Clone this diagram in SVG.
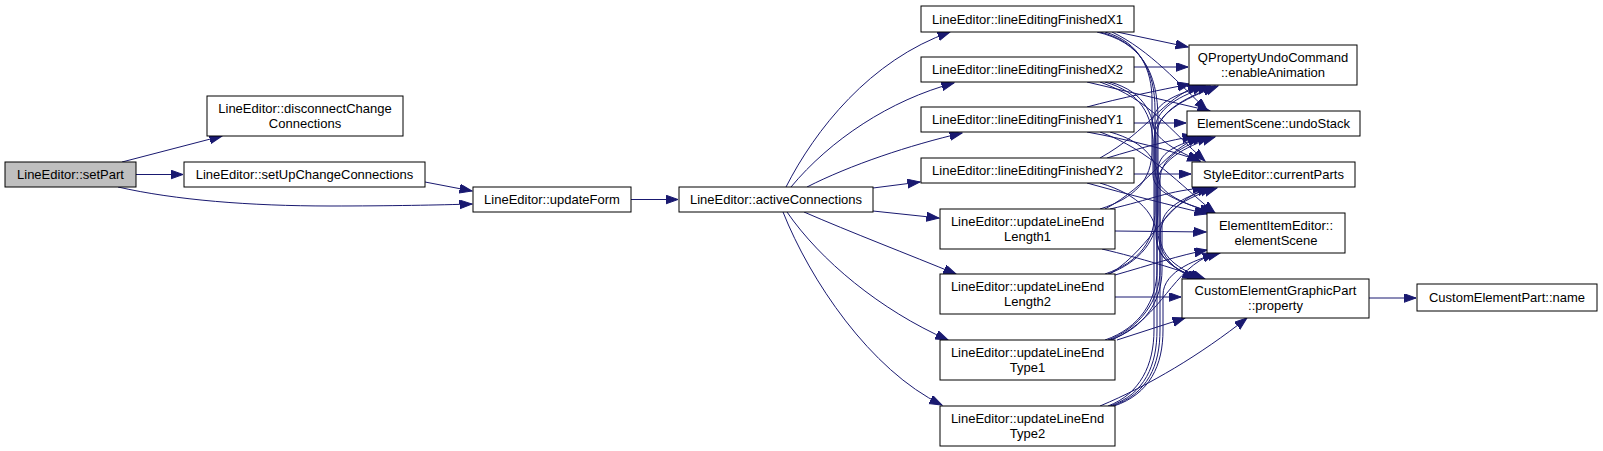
<svg xmlns="http://www.w3.org/2000/svg" width="1603" height="451" viewBox="0 0 1603 451">
<defs>
<marker id="arr" markerUnits="userSpaceOnUse" markerWidth="14" markerHeight="10" refX="12.5" refY="4.5" orient="auto">
<path d="M0,0 L12.5,4.5 L0,9 z" fill="#191970" stroke="#191970" stroke-width="1"/>
</marker>
<style>
.n rect{fill:#ffffff;stroke:#000000;stroke-width:1}
.n.root rect{fill:#bfbfbf}
.n text{font-family:"Liberation Sans",Arial,sans-serif;font-size:13px;fill:#000000;text-anchor:middle}
.e path{fill:none;stroke:#191970;stroke-width:1;marker-end:url(#arr)}
</style>
</defs>
<rect x="0" y="0" width="1603" height="451" fill="#ffffff"/>
<g id="edges" class="e">
<path d="M122,162 L222,136"/>
<path d="M136,174.5 L183,174.5"/>
<path d="M118,187 C175,200 250,206 330,206 C390,206 440,205 472,204"/>
<path d="M425,182 L472,191"/>
<path d="M631,199.5 L678,199.5"/>
<path d="M786,187 C815,130 870,60 950,32"/>
<path d="M791,187 C830,140 890,100 954,83"/>
<path d="M807,187 C850,165 910,145 962,133"/>
<path d="M873,188 L920,182"/>
<path d="M873,211 L939,218"/>
<path d="M804,212 C850,232 910,255 956,274"/>
<path d="M787,212 C820,260 880,310 948,340"/>
<path d="M783,212 C810,280 870,370 942,405"/>
<path d="M1369,298 L1416,298"/>
<!-- X1 -->
<path d="M1117,32 L1188,47"/>
<path d="M1112,32 C1150,50 1180,85 1207,110"/>
<path d="M1105,32 C1140,42 1152,70 1152,100 L1152,120 C1152,140 1180,152 1200,161"/>
<path d="M1100,32 C1140,42 1155,70 1155,110 L1155,170 C1155,195 1190,205 1212,213"/>
<path d="M1097,32 C1140,42 1158,70 1158,120 L1158,230 C1158,260 1180,272 1195,279"/>
<!-- X2 -->
<path d="M1134,67 L1188,67"/>
<path d="M1087,82 L1210,111"/>
<path d="M1100,82 C1150,100 1170,130 1205,161"/>
<path d="M1105,82 C1140,92 1153,115 1153,145 L1153,175 C1153,195 1190,205 1215,213"/>
<path d="M1110,82 C1145,92 1156,115 1156,150 L1156,235 C1156,260 1180,272 1200,279"/>
<!-- Y1 -->
<path d="M1087,107 C1120,98 1160,90 1190,84"/>
<path d="M1134,123 L1186,123"/>
<path d="M1087,132 C1130,140 1170,150 1200,161"/>
<path d="M1100,132 C1150,150 1180,185 1215,213"/>
<path d="M1110,132 C1145,142 1160,160 1160,190 L1160,235 C1160,260 1185,272 1205,279"/>
<!-- Y2 -->
<path d="M1100,158 C1150,130 1160,100 1200,85"/>
<path d="M1107,158 C1140,148 1170,140 1195,136"/>
<path d="M1134,174 L1191,174"/>
<path d="M1087,183 C1130,195 1170,205 1207,214"/>
<path d="M1100,183 C1140,195 1157,215 1157,240 C1157,260 1180,272 1200,279"/>
<!-- L1 -->
<path d="M1100,209 C1135,198 1152,180 1152,150 L1152,125 C1152,100 1185,92 1205,86"/>
<path d="M1105,209 C1150,185 1165,150 1200,137"/>
<path d="M1110,209 C1150,200 1170,190 1205,188"/>
<path d="M1115,231 L1206,232"/>
<path d="M1102,249 C1140,258 1180,270 1203,279"/>
<!-- L2 -->
<path d="M1105,274 C1140,262 1155,240 1155,210 L1155,130 C1155,105 1190,92 1210,86"/>
<path d="M1108,274 C1140,262 1158,240 1158,210 L1158,170 C1158,150 1185,142 1205,137"/>
<path d="M1110,274 C1155,245 1165,200 1210,188"/>
<path d="M1115,275 C1150,265 1180,255 1207,250"/>
<path d="M1115,297 L1181,297"/>
<!-- T1 -->
<path d="M1105,340 C1140,328 1157,300 1157,270 L1157,135 C1157,108 1195,95 1215,86"/>
<path d="M1108,340 C1140,328 1160,300 1160,270 L1160,180 C1160,155 1190,143 1210,137"/>
<path d="M1110,340 C1145,328 1162,300 1162,270 L1162,225 C1162,205 1195,193 1213,188"/>
<path d="M1112,340 C1165,315 1170,270 1215,253"/>
<path d="M1117,340 L1185,318"/>
<!-- T2 -->
<path d="M1108,406 C1140,394 1154,365 1154,330 L1154,140 C1154,110 1195,95 1218,86"/>
<path d="M1110,406 C1145,394 1157,365 1157,330 L1157,185 C1157,158 1195,143 1215,137"/>
<path d="M1112,406 C1148,394 1160,365 1160,330 L1160,235 C1160,208 1197,194 1217,188"/>
<path d="M1114,406 C1150,394 1163,365 1163,330 L1163,295 C1163,270 1200,258 1220,253"/>
<path d="M1100,406 C1150,385 1200,355 1247,318"/>
</g>
<g id="n_setPart" class="n root"><rect x="5" y="162" width="131" height="25"/><text x="70.5" y="179">LineEditor::setPart</text></g>
<g id="n_disconnect" class="n"><rect x="207" y="96" width="196" height="40"/><text x="305" y="112.5">LineEditor::disconnectChange</text><text x="305" y="127.5">Connections</text></g>
<g id="n_setUp" class="n"><rect x="184" y="162" width="241" height="25"/><text x="304.5" y="179">LineEditor::setUpChangeConnections</text></g>
<g id="n_updateForm" class="n"><rect x="473" y="187" width="158" height="25"/><text x="552" y="204">LineEditor::updateForm</text></g>
<g id="n_active" class="n"><rect x="679" y="187" width="194" height="25"/><text x="776" y="204">LineEditor::activeConnections</text></g>
<g id="n_X1" class="n"><rect x="921" y="6" width="213" height="26"/><text x="1027.5" y="23.5">LineEditor::lineEditingFinishedX1</text></g>
<g id="n_X2" class="n"><rect x="921" y="57" width="213" height="25"/><text x="1027.5" y="74">LineEditor::lineEditingFinishedX2</text></g>
<g id="n_Y1" class="n"><rect x="921" y="107" width="213" height="25"/><text x="1027.5" y="124">LineEditor::lineEditingFinishedY1</text></g>
<g id="n_Y2" class="n"><rect x="921" y="158" width="213" height="25"/><text x="1027.5" y="175">LineEditor::lineEditingFinishedY2</text></g>
<g id="n_L1" class="n"><rect x="940" y="209" width="175" height="40"/><text x="1027.5" y="225.5">LineEditor::updateLineEnd</text><text x="1027.5" y="240.5">Length1</text></g>
<g id="n_L2" class="n"><rect x="940" y="274" width="175" height="40"/><text x="1027.5" y="290.5">LineEditor::updateLineEnd</text><text x="1027.5" y="305.5">Length2</text></g>
<g id="n_T1" class="n"><rect x="940" y="340" width="175" height="40"/><text x="1027.5" y="356.5">LineEditor::updateLineEnd</text><text x="1027.5" y="371.5">Type1</text></g>
<g id="n_T2" class="n"><rect x="940" y="406" width="175" height="40"/><text x="1027.5" y="422.5">LineEditor::updateLineEnd</text><text x="1027.5" y="437.5">Type2</text></g>
<g id="n_QP" class="n"><rect x="1189" y="45" width="168" height="40"/><text x="1273" y="61.5">QPropertyUndoCommand</text><text x="1273" y="76.5">::enableAnimation</text></g>
<g id="n_undo" class="n"><rect x="1187" y="111" width="173" height="25"/><text x="1273.5" y="128">ElementScene::undoStack</text></g>
<g id="n_cur" class="n"><rect x="1192" y="162" width="163" height="25"/><text x="1273.5" y="179">StyleEditor::currentParts</text></g>
<g id="n_elem" class="n"><rect x="1207" y="213" width="138" height="40"/><text x="1276" y="229.5">ElementItemEditor::</text><text x="1276" y="244.5">elementScene</text></g>
<g id="n_prop" class="n"><rect x="1182" y="279" width="187" height="39"/><text x="1275.5" y="295">CustomElementGraphicPart</text><text x="1275.5" y="310">::property</text></g>
<g id="n_name" class="n"><rect x="1417" y="284" width="180" height="27"/><text x="1507" y="302">CustomElementPart::name</text></g>
</svg>
